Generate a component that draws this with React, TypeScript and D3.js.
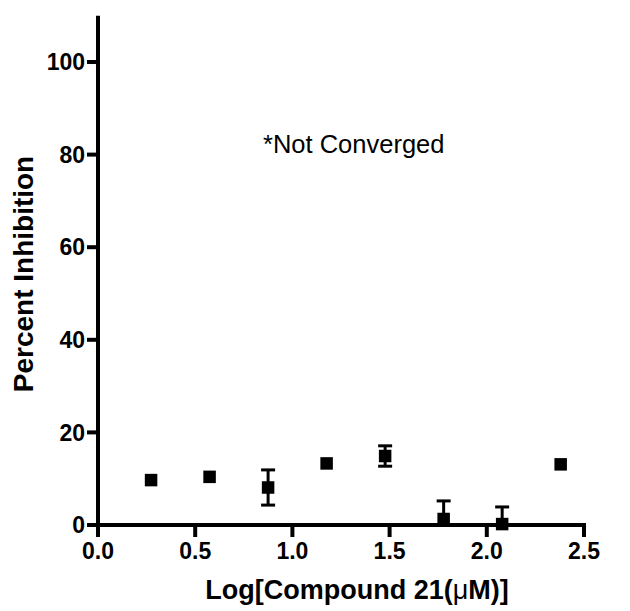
import React from "react";
import * as d3 from "d3";

const logConc = [0.273, 0.574, 0.875, 1.176, 1.477, 1.778, 2.079, 2.38];
const inhibition = [9.7, 10.4, 8.1, 13.3, 14.9, 1.3, 0.2, 13.1];
const errSD = [0, 0, 3.8, 0, 2.2, 3.9, 3.7, 0];
const xTicks = [0, 0.5, 1.0, 1.5, 2.0, 2.5];
const yTicks = [0, 20, 40, 60, 80, 100];
const xTitle = "Log[Compound 21(";
const yTitle = "Percent Inhibition";
const note = "*Not Converged";

const W = 630;
const H = 611;
const FONT = "'Liberation Sans', Arial, Helvetica, sans-serif";

export default function App() {
  const x = d3.scaleLinear().domain([0, 2.5]).range([98, 584]);
  const y = d3.scaleLinear().domain([0, 110]).range([525, 15.7]);
  const sw = 4;
  const tickLen = 11;
  const mk = 12.5;
  const cap = 14;

  return (
    <svg
      width={W}
      height={H}
      style={{ position: "absolute", left: 0, top: 0, background: "#fff" }}
    >
      <defs>
        <clipPath id="plotClip">
          <rect x={x(0)} y={0} width={W} height={y(0) - 0} />
        </clipPath>
      </defs>
      {/* axes */}
      <line x1={x(0)} x2={x(0)} y1={y(110)} y2={y(0) + sw / 2} stroke="#000" strokeWidth={sw} />
      <line x1={x(0) - sw / 2} x2={x(2.5) + sw / 2} y1={y(0)} y2={y(0)} stroke="#000" strokeWidth={sw} />
      {yTicks.map((t) => (
        <g key={"y" + t}>
          <line x1={x(0) - tickLen} x2={x(0)} y1={y(t)} y2={y(t)} stroke="#000" strokeWidth={sw} />
          <text
            x={x(0) - tickLen - 2}
            y={y(t)}
            dy="0.36em"
            textAnchor="end"
            fontFamily={FONT}
            fontWeight="bold"
            fontSize={23}
          >
            {t}
          </text>
        </g>
      ))}
      {xTicks.map((t) => (
        <g key={"x" + t}>
          <line x1={x(t)} x2={x(t)} y1={y(0)} y2={y(0) + tickLen + 1} stroke="#000" strokeWidth={sw} />
          <text
            x={x(t)}
            y={559}
            textAnchor="middle"
            fontFamily={FONT}
            fontWeight="bold"
            fontSize={23}
          >
            {t.toFixed(1)}
          </text>
        </g>
      ))}
      {/* error bars */}
      <g clipPath="url(#plotClip)">
        {logConc.map((c, i) =>
          errSD[i] > 0 ? (
            <g key={"e" + i} stroke="#000" strokeWidth={3}>
              <line x1={x(c)} x2={x(c)} y1={y(inhibition[i] + errSD[i])} y2={y(inhibition[i] - errSD[i])} />
              <line x1={x(c) - cap / 2} x2={x(c) + cap / 2} y1={y(inhibition[i] + errSD[i])} y2={y(inhibition[i] + errSD[i])} />
              <line x1={x(c) - cap / 2} x2={x(c) + cap / 2} y1={y(inhibition[i] - errSD[i])} y2={y(inhibition[i] - errSD[i])} />
            </g>
          ) : null
        )}
      </g>
      {/* markers */}
      {logConc.map((c, i) => (
        <rect key={"m" + i} x={x(c) - mk / 2} y={y(inhibition[i]) - mk / 2} width={mk} height={mk} fill="#000" />
      ))}
      {/* titles */}
      <text x={357} y={599} textAnchor="middle" fontFamily={FONT} fontWeight="bold" fontSize={27}>
        {xTitle}
        <tspan fontWeight="normal">μ</tspan>
        {"M)]"}
      </text>
      <text
        transform={`translate(33, ${274}) rotate(-90)`}
        textAnchor="middle"
        fontFamily={FONT}
        fontWeight="bold"
        fontSize={28}
      >
        {yTitle}
      </text>
      <text x={263} y={153} fontFamily={FONT} fontSize={25.5}>
        {note}
      </text>
    </svg>
  );
}
